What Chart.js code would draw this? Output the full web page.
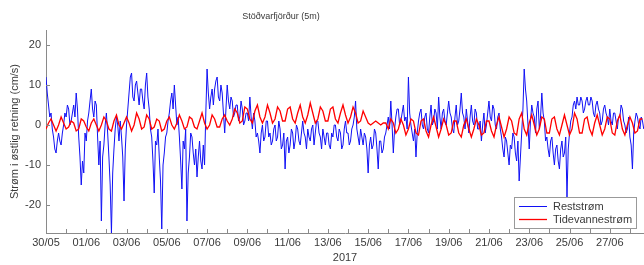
<!DOCTYPE html>
<html><head><meta charset="utf-8">
<script src="https://cdn.jsdelivr.net/npm/chart.js@4.4.0/dist/chart.umd.min.js"></script>
<style>html,body{margin:0;padding:0;background:#fff;}#wrap{width:644px;height:265px;}</style>
</head><body><div id="wrap"><canvas id="c" width="644" height="265"></canvas></div>
<script>
const titleText = 'Stöðvarfjörður (5m)';
const yAxisTitle = 'Strøm i østlig retning (cm/s)';
const xAxisTitle = '2017';
const seriesNames = ['Reststrøm', 'Tidevannestrøm'];
const xTickDays = [0,2,4,6,8,10,12,14,16,18,20,22,24,26,28];
const xTickLabels = ['30/05','01/06','03/06','05/06','07/06','09/06','11/06','13/06','15/06','17/06','19/06','21/06','23/06','25/06','27/06'];
const yTicks = [-20,-10,0,10,20];
const reststromStepHours = 1.5;      // series start 30/05 00:00
const tidevannestromStepHours = 3;

const reststrom = [
 12,8,5,2,3,-1,-3,-6,-7,-4,-2,-4,-5,-2,0,3,
 2,5,4,0,1,3,5,2,8,4,-3,-8,-15,-9,-12,-2,
 -4,1,3,6,9,4,2,6,5,-3,-10,-4,-24,-8,-5,0,
 3,-2,-8,-15,-27,-12,-6,-1,2,0,-4,1,-3,-8,-19,-6,
 0,4,8,12,13,7,6,10,11,8,5,9,9,6,4,10,
 13,7,4,-1,-3,-9,-17,-4,-5,-1,-8,-14,-26,-10,-7,-3,
 -2,1,3,6,8,4,10,5,0,2,-3,-9,-16,-4,-6,-1,
 -24,-12,-8,-2,-3,-7,-10,-6,-13,-8,-4,-9,-11,-5,-10,3,
 14,8,4,7,9,5,9,11,12,7,6,10,8,3,-2,4,
 10,6,4,7,6,2,3,5,5,1,2,6,4,0,1,3,
 3,1,7,2,-1,3,1,-3,-2,-4,-7,-2,0,-4,-3,1,
 1,-3,-2,-5,-4,-1,0,-4,-3,1,-1,-6,-5,-2,-11,-4,
 -3,-7,-5,-1,-2,-6,-4,0,-1,-4,-5,-2,1,-2,-3,-6,
 -1,-3,-4,-1,0,-5,-2,1,1,-2,-3,-6,-1,-3,-5,-2,
 -2,-5,-6,-2,-3,0,0,-3,-4,-1,-2,-6,-5,-1,1,-2,
 -2,-5,-4,-1,0,2,6,-1,-3,-5,-1,-3,-5,-2,-3,-6,
 -12,-5,-3,-6,-5,-1,-2,-6,-11,-4,-4,-7,-6,-3,-2,0,
 2,-1,6,0,-7,-1,2,4,4,0,1,3,5,1,2,-1,
 12,3,0,-2,-4,-1,-8,-2,1,3,4,0,-1,2,3,-1,
 -2,2,5,0,1,4,3,-1,7,2,-1,3,4,1,0,3,
 6,3,2,-1,-2,2,5,0,1,4,8,3,2,-1,4,1,
 -2,2,5,1,0,4,3,-1,-1,1,-4,0,3,-2,0,3,
 6,2,1,5,4,0,-1,2,3,-1,-3,-6,-8,-3,-4,-7,
 -10,-5,-6,-2,-3,-7,-9,-4,-14,-8,-2,4,14,9,6,0,
 -6,1,5,3,2,-2,4,6,-1,2,8,3,1,-4,-3,-6,
 -8,-4,-3,-7,-10,-6,-5,-9,-11,-6,-4,-8,-7,-3,-18,-6,
 -2,1,2,5,6,4,7,5,5,7,6,3,4,6,7,5,
 5,7,6,3,2,5,6,4,3,0,1,4,5,3,2,0,
 4,1,0,3,3,1,-1,2,2,5,4,1,0,-2,-1,2,
 -3,-5,-11,-2,1,3,2,0,-1,2,1,-1
];

const tidevannestrom = [
 -1,0.5,1.5,0,-1.5,0,2,0.5,
 -1,-0.5,1,0.5,-1.5,-1,1.5,1,
 -0.5,-1.5,0.5,1.5,0,-1.5,0,2,
 1,-1,-1.5,1,2.5,0,-1,0.5,
 2,0.5,-1.5,0,3,1.5,-1,-0.5,
 2.5,1.5,-1,-0.5,1.5,1,-1.5,-1,
 1,2,0,-1,0.5,2.5,1,-1,
 -0.5,2,1.5,-0.5,-1,1,3,0.5,
 -1,0,2.5,1.5,-0.5,-0.5,1.5,2.5,
 1,0,1.5,4,3,0.5,1,4.5,
 4,1.5,0.5,3.5,5,2,0.5,2,
 5,3,0.5,1.5,4.5,3.5,1,1,
 4,4.5,1.5,0.5,3,5,2,0.5,
 2.5,5.5,3,0.5,1.5,4.5,3.5,1,
 1,4,4.5,1.5,0.5,3,5,2.5,
 0.5,2,4.5,3,0.5,1,3.5,2,
 0.5,0,0.5,1,0.5,0,0.5,0.5,
 -1,1.5,0.5,-2,-1,1.5,0,-2.5,
 -1,1.5,1,-2,-2.5,1,1.5,-1.5,
 -3,0,2,-0.5,-3,-1,1.5,0,
 -2.5,-2,1,1,-2,-3,0,1.5,
 -1,-3,-1,1.5,0,-2.5,-2,1,
 1,-1.5,-3,0,2,-0.5,-3,-1,
 2,1,-2,-2.5,1.5,3,-1,-2.5,
 0.5,2.5,0,-2.5,-1,2,1.5,-2,
 -2,1.5,2,-1,-2.5,0,2.5,0,
 -2.5,-1,3,1.5,-2,-2,1.5,2,
 -1,-2.5,0.5,2.5,0,-2.5,-1,2,
 1.5,-2,-2.5,1,2.5,-1,-2.5,0,
 2,0.5,-2,-1.5,1.5,1.5
];

const toPoints = (arr, step) => arr.map((v, i) => ({x: i * step / 24, y: v}));
const FONT = '"Liberation Sans", Arial, sans-serif';
const TEXT = '#3a3a3a';
const AXIS = '#8a8a8a';
const BLUE = '#1010f5';
const RED = '#ff0000';

const deco = {
  id: 'deco',
  afterDraw(chart) {
    const {ctx, chartArea: a, scales: {x, y}} = chart;
    ctx.save();
    ctx.strokeStyle = AXIS; ctx.lineWidth = 1;
    ctx.beginPath();
    x.ticks.forEach(t => { const px = Math.round(x.getPixelForValue(t.value)) + 0.5; ctx.moveTo(px, a.bottom); ctx.lineTo(px, a.bottom - 4); });
    y.ticks.forEach(t => { const py = Math.round(y.getPixelForValue(t.value)) + 0.5; ctx.moveTo(a.left, py); ctx.lineTo(a.left + 4, py); });
    ctx.stroke();
    ctx.fillStyle = TEXT; ctx.font = '9px ' + FONT; ctx.textAlign = 'center'; ctx.textBaseline = 'middle';
    ctx.fillText(titleText, 281, 17);
    const lx = 514, ly = 197, lw = 122, lh = 31;
    ctx.fillStyle = '#fff'; ctx.fillRect(lx, ly, lw, lh);
    ctx.strokeStyle = '#999'; ctx.strokeRect(lx + 0.5, ly + 0.5, lw, lh);
    const cols = [BLUE, RED];
    seriesNames.forEach((name, k) => {
      const yy = ly + 9.5 + k * 13;
      ctx.strokeStyle = cols[k]; ctx.lineWidth = k ? 1.3 : 1;
      ctx.beginPath(); ctx.moveTo(lx + 5, yy); ctx.lineTo(lx + 33, yy); ctx.stroke();
      ctx.fillStyle = TEXT; ctx.font = '11px ' + FONT; ctx.textAlign = 'left'; ctx.textBaseline = 'middle';
      ctx.fillText(name, lx + 39, yy);
    });
    ctx.restore();
  }
};

new Chart(document.getElementById('c'), {
  type: 'line',
  data: {
    datasets: [
      {label: seriesNames[0], data: toPoints(reststrom, reststromStepHours), borderColor: BLUE, borderWidth: 1, pointRadius: 0, tension: 0, order: 2},
      {label: seriesNames[1], data: toPoints(tidevannestrom, tidevannestromStepHours), borderColor: RED, borderWidth: 1.3, pointRadius: 0, tension: 0, order: 1}
    ]
  },
  options: {
    responsive: false, animation: false, devicePixelRatio: 1,
    layout: {padding: {top: 30, right: 0, bottom: 0, left: 0}},
    plugins: {legend: {display: false}, tooltip: {enabled: false}, title: {display: false}},
    scales: {
      x: {
        type: 'linear', min: 0, max: 29.7,
        afterFit: s => { s.height = 32; },
        afterBuildTicks: s => { s.ticks = Array.from({length: 30}, (_, d) => ({value: d})); },
        ticks: {autoSkip: false, maxRotation: 0, padding: 3, color: TEXT, font: {family: FONT, size: 11},
          callback: v => { const k = xTickDays.indexOf(v); return k >= 0 ? xTickLabels[k] : ''; }},
        grid: {display: true, drawOnChartArea: false, drawTicks: false, color: 'rgba(0,0,0,0)'},
        border: {display: true, color: AXIS, width: 1},
        title: {display: true, text: xAxisTitle, color: TEXT, font: {family: FONT, size: 11}, padding: {top: 0, bottom: 0}}
      },
      y: {
        type: 'linear', min: -27, max: 23.75,
        afterFit: s => { s.width = 46; },
        afterBuildTicks: s => { s.ticks = yTicks.map(v => ({value: v})); },
        ticks: {padding: 5, color: TEXT, font: {family: FONT, size: 11}},
        grid: {display: true, drawOnChartArea: false, drawTicks: false, color: 'rgba(0,0,0,0)'},
        border: {display: true, color: AXIS, width: 1},
        title: {display: true, text: yAxisTitle, color: TEXT, font: {family: FONT, size: 11}, padding: {top: 8, bottom: 0}}
      }
    }
  },
  plugins: [deco]
});
</script></body></html>
